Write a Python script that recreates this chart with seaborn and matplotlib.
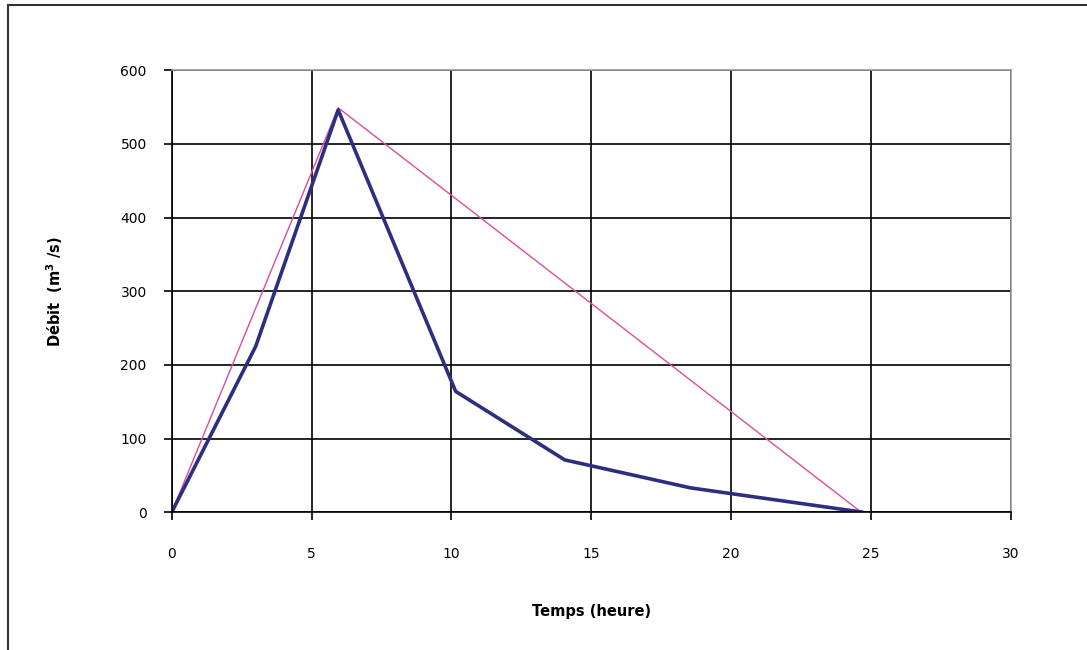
import matplotlib
matplotlib.use("Agg")
import matplotlib.pyplot as plt
from matplotlib.lines import Line2D
import seaborn as sns

# hydrogramme observe
temps_obs = [0, 3.0, 5.95, 10.15, 14.05, 18.55, 24.7]
debit_obs = [0, 225, 546, 164, 71, 33, 0]

# hydrogramme triangulaire
temps_tri = [0, 5.95, 24.65]
debit_tri = [0, 549, 0]

x_ticks = [0, 5, 10, 15, 20, 25, 30]
y_ticks = [0, 100, 200, 300, 400, 500, 600]

sns.set_style("white")
plt.rcParams['font.family'] = ['DejaVu Sans']
plt.rcParams['text.color'] = 'black'
plt.rcParams['axes.labelcolor'] = 'black'
plt.rcParams['xtick.color'] = 'black'
plt.rcParams['ytick.color'] = 'black'

fig = plt.figure(figsize=(10.87, 6.5), dpi=100)
ax = fig.add_axes([0.158, 0.212, 0.772, 0.680])

sns.lineplot(x=temps_tri, y=debit_tri, ax=ax, color="#DD4C9C", linewidth=1.0, sort=False)
sns.lineplot(x=temps_obs, y=debit_obs, ax=ax, color="#2E2E80", linewidth=2.6, sort=False)

ax.set_xlim(0, 30)
ax.set_ylim(0, 600)
ax.set_xticks(x_ticks)
ax.set_yticks(y_ticks)
ax.set_axisbelow(True)
ax.grid(True, color="black", linewidth=1.2)
ax.tick_params(axis="both", direction="out", length=6, width=1.2, color="black",
               labelsize=10, labelcolor="black", left=True, bottom=True)
ax.tick_params(axis="x", pad=19)
ax.tick_params(axis="y", pad=12)

for side in ["left", "bottom"]:
    ax.spines[side].set_color("black")
    ax.spines[side].set_linewidth(1.2)
for side in ["top", "right"]:
    ax.spines[side].set_color("#999999")
    ax.spines[side].set_linewidth(1.2)

ax.set_xlabel("Temps (heure)", fontsize=10.5, fontweight="bold", labelpad=31)
ax.set_ylabel(r"Débit  (m$^{\mathbf{3}}$ /s)", fontsize=10.5, fontweight="bold", labelpad=40)

# cadre exterieur
fig.add_artist(Line2D([0.007, 1.0], [0.992, 0.992], transform=fig.transFigure, color="#333333", lw=1.5))
fig.add_artist(Line2D([0.0075, 0.0075], [0.0, 0.992], transform=fig.transFigure, color="#333333", lw=1.5))

fig.savefig("out.png", dpi=100)
